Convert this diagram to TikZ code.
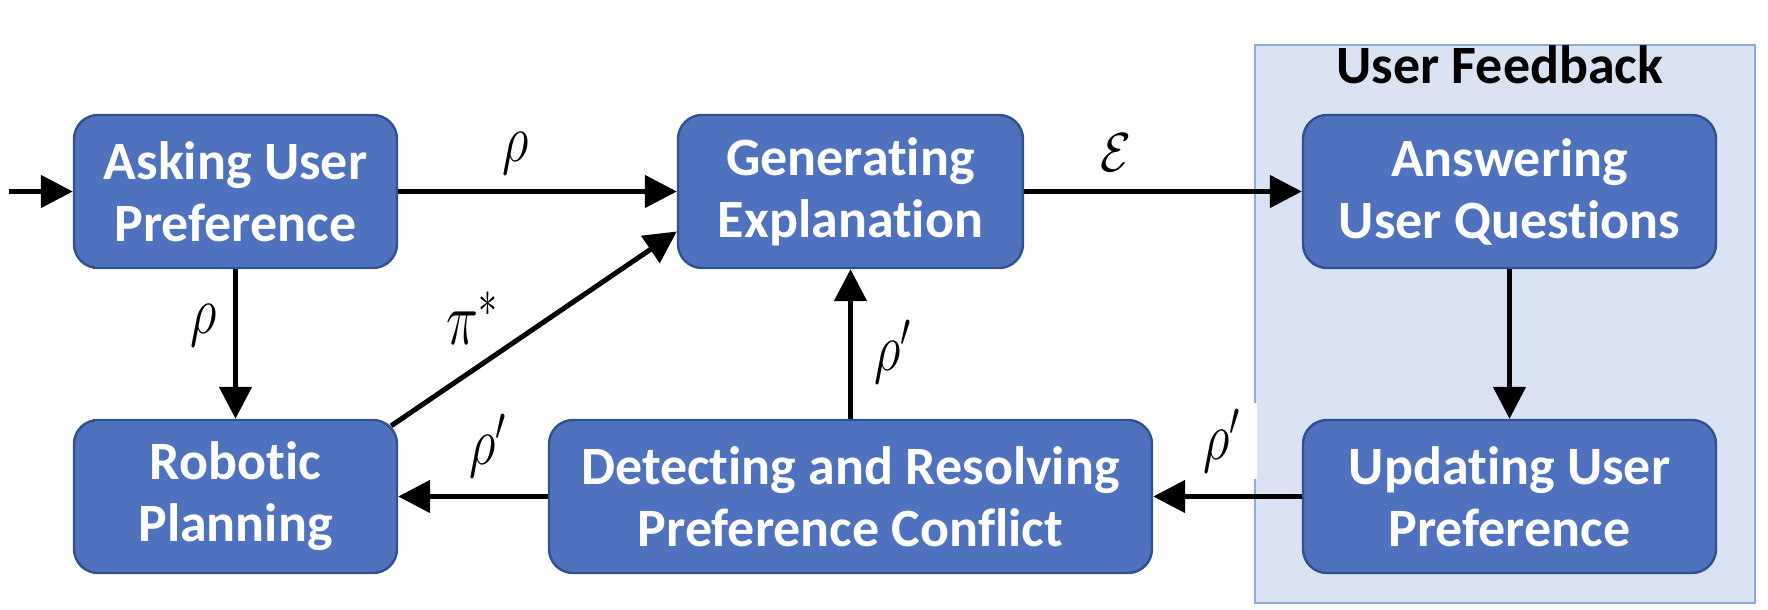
\RequirePackage{fix-cm}
\documentclass[tikz,border=0pt]{standalone}
\usepackage{fontspec}
\setmainfont{Carlito}[Ligatures={TeX,NoCommon}]
\usetikzlibrary{arrows.meta,calc}
\definecolor{boxfill}{RGB}{78,114,190}
\definecolor{boxborder}{RGB}{47,82,143}
\definecolor{bgfill}{RGB}{218,227,243}
\definecolor{bgborder}{RGB}{143,170,220}
\newcommand{\stretchy}[2]{\scalebox{1}[#1]{$#2$}}
\tikzset{
  box/.style={draw=boxborder, line width=1.2pt, fill=boxfill, rounded corners=12pt,
    text=white, font=\fontsize{27}{31}\selectfont\bfseries, align=center, inner sep=0pt,
    minimum height=76.5pt},
  arr/.style={line width=2.5pt, -{Triangle[length=16pt,width=16pt]}},
  lab/.style={font=\fontsize{26}{26}\selectfont, inner sep=1pt}
}
\begin{document}
\begin{tikzpicture}[x=0.5pt,y=-0.5pt]
\useasboundingbox (0,0) rectangle (1768,610);
\fill[bgfill, draw=bgborder, line width=0.6pt] (1255,45) rectangle (1755,603);
\node[font=\fontsize{27}{31}\selectfont\bfseries, anchor=base, inner sep=0pt] (title) at (1500,84) {User Feedback};

\node[box, minimum width=161.5pt] (ask) at (235.5,191.5) {Asking User\\Preference};
\node[box, minimum width=172.5pt] (gen) at (850.5,191.5) {Generating\\Explanation};
\node[box, minimum width=206.5pt] (ans) at (1509.5,191.5) {Answering\\User Questions};
\node[box, minimum width=161.5pt] (rob) at (235.5,496.5) {Robotic\\Planning};
\node[box, minimum width=301.5pt] (det) at (850.5,496.5) {Detecting and Resolving\\Preference Conflict};
\node[box, minimum width=206.5pt] (upd) at (1509.5,496.5) {Updating User\\Preference};

\coordinate (in) at (9,191.5);
\draw[arr] (in) -- (ask.west);
\draw[arr] (ask.east) -- (gen.west);
\draw[arr] (gen.east) -- (ans.west);
\draw[arr] (ask.south) -- (rob.north);
\draw[arr] ($(rob.north east)+(-7,7)$) -- ($(gen.west)+(0,40)$);
\draw[arr] (det.north) -- (gen.south);
\draw[arr] (det.west) -- (rob.east);
\draw[arr] (upd.west) -- (det.east);
\draw[arr] (ans.south) -- (upd.north);

\node[lab] (l1) at (516,154) {\stretchy{1.3}{\rho}};
\node[lab, font=\fontsize{25}{25}\selectfont] (l2) at (1116,153) {\stretchy{1.1}{\mathcal{E}}};
\node[lab] (l3) at (204,326) {\stretchy{1.3}{\rho}};
\node[lab, font=\fontsize{27}{27}\selectfont] (l4) at (472,318) {\stretchy{1.4}{\pi^*}};
\node[lab] (l5) at (893,352) {\stretchy{1.3}{\rho'}};
\node[lab] (l6) at (488,446) {\stretchy{1.3}{\rho'}};
\node[lab, fill=white, minimum width=35pt, minimum height=38pt] (l7) at (1222,441) {\stretchy{1.3}{\rho'}};
\end{tikzpicture}
\end{document}
